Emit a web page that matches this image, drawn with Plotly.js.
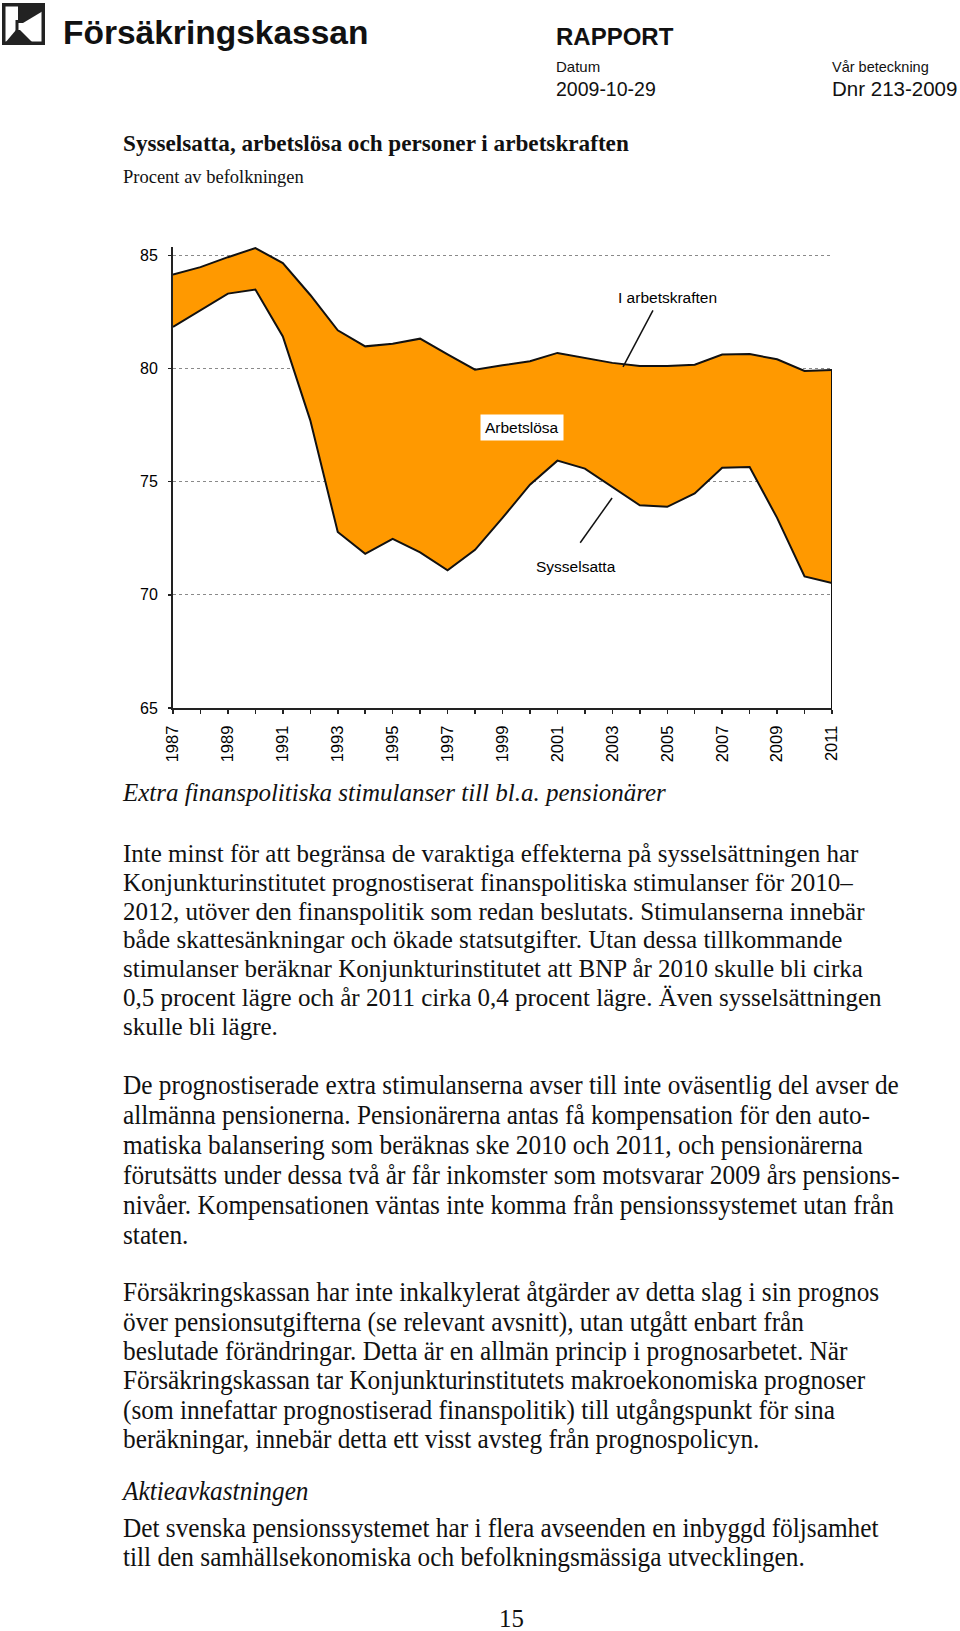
<!DOCTYPE html>
<html>
<head>
<meta charset="utf-8">
<script src="https://cdn.plot.ly/plotly-3.0.1.min.js"></script>
<style>
  html, body { margin:0; padding:0; background:#fff; }
  body { width:960px; height:1631px; position:relative; overflow:hidden; color:#111; }
  .t { position:absolute; white-space:nowrap; transform-origin:0 0; }
  #chart { position:absolute; left:0; top:200px; width:960px; height:570px; }
</style>
</head>
<body>
<svg style="position:absolute;left:2px;top:3px" width="43" height="42" viewBox="0 0 43 42">
  <rect x="1.75" y="1.75" width="39.5" height="38.5" fill="#fff" stroke="#222" stroke-width="3.5"/>
  <polygon points="16,3 41,3 41,8 21,20 16,20" fill="#222"/>
  <rect x="13.5" y="17" width="3" height="11" fill="#222"/>
  <polygon points="3,40 14,27 18,27 31,40" fill="#222"/>
</svg>
<div id="chart"></div>
<script>
// ---------- data ----------
const years = [1987,1988,1989,1990,1991,1992,1993,1994,1995,1996,1997,1998,1999,
               2000,2001,2002,2003,2004,2005,2006,2007,2008,2009,2010,2011];
const iArbetskraften = [84.15,84.48,84.92,85.32,84.66,83.25,81.69,80.98,81.10,81.32,80.63,79.95,80.14,
                        80.32,80.69,80.47,80.25,80.11,80.11,80.17,80.62,80.64,80.41,79.89,79.93];
const sysselsatta = [81.84,82.57,83.31,83.49,81.42,77.71,72.78,71.81,72.47,71.88,71.08,71.99,73.40,
                     74.87,75.93,75.58,74.77,73.96,73.89,74.48,75.62,75.65,73.40,70.81,70.52];
const xTickLabels = ['1987','1989','1991','1993','1995','1997','1999','2001','2003','2005','2007','2009','2011'];
const yTickVals = [65,70,75,80,85];
const yTickLabels = ['65','70','75','80','85'];
const seriesLabels = ['I arbetskraften','Arbetslösa','Sysselsatta'];

// ---------- page text ----------
const SERIF = '"Liberation Serif","Times New Roman",serif';
const SANS = '"Liberation Sans",Arial,Helvetica,sans-serif';
function addText(txt, x, baseline, o) {
  const d = document.createElement('div');
  d.className = 't';
  const asc = o.serif ? 0.8375 : 0.8465;
  d.style.left = x + 'px';
  d.style.top = (baseline - o.size * asc) + 'px';
  d.style.fontFamily = o.serif ? SERIF : SANS;
  d.style.fontSize = o.size + 'px';
  d.style.lineHeight = o.size + 'px';
  d.style.fontWeight = o.bold ? 'bold' : 'normal';
  d.style.fontStyle = o.italic ? 'italic' : 'normal';
  let tr = '';
  if (o.center) tr += 'translateX(-50%) ';
  if (o.sx) tr += 'scaleX(' + o.sx + ')';
  if (tr) d.style.transform = tr;
  d.textContent = txt;
  document.body.appendChild(d);
}
// header
addText('Försäkringskassan', 63, 44, {size:33.5, bold:true});
addText('RAPPORT', 556, 45, {size:24, bold:true});
addText('Datum', 556, 72, {size:15});
addText('Vår beteckning', 832, 72, {size:14.5});
addText('2009-10-29', 556, 96.5, {size:19.5});
addText('Dnr 213-2009', 832, 96.5, {size:20.5});
// chart title
addText('Sysselsatta, arbetslösa och personer i arbetskraften', 123, 151, {size:23.2, bold:true, serif:true});
addText('Procent av befolkningen', 123, 183, {size:18.5, serif:true});

// body
const BX = 123;
const paragraphs = [
  {y:800.6, lh:28.8, size:25, italic:true, lines:['Extra finanspolitiska stimulanser till bl.a. pensionärer']},
  {y:862, lh:28.8, size:25, lines:[
    'Inte minst för att begränsa de varaktiga effekterna på sysselsättningen har',
    'Konjunkturinstitutet prognostiserat finanspolitiska stimulanser för 2010–',
    '2012, utöver den finanspolitik som redan beslutats. Stimulanserna innebär',
    'både skattesänkningar och ökade statsutgifter. Utan dessa tillkommande',
    'stimulanser beräknar Konjunkturinstitutet att BNP år 2010 skulle bli cirka',
    '0,5 procent lägre och år 2011 cirka 0,4 procent lägre. Även sysselsättningen',
    'skulle bli lägre.']},
  {y:1094.5, lh:29.9, size:26.5, sx:0.955, lines:[
    'De prognostiserade extra stimulanserna avser till inte oväsentlig del avser de',
    'allmänna pensionerna. Pensionärerna antas få kompensation för den auto-',
    'matiska balansering som beräknas ske 2010 och 2011, och pensionärerna',
    'förutsätts under dessa två år får inkomster som motsvarar 2009 års pensions-',
    'nivåer. Kompensationen väntas inte komma från pensionssystemet utan från',
    'staten.']},
  {y:1301.5, lh:29.3, size:26.5, sx:0.955, lines:[
    'Försäkringskassan har inte inkalkylerat åtgärder av detta slag i sin prognos',
    'över pensionsutgifterna (se relevant avsnitt), utan utgått enbart från',
    'beslutade förändringar. Detta är en allmän princip i prognosarbetet. När',
    'Försäkringskassan tar Konjunkturinstitutets makroekonomiska prognoser',
    '(som innefattar prognostiserad finanspolitik) till utgångspunkt för sina',
    'beräkningar, innebär detta ett visst avsteg från prognospolicyn.']},
  {y:1500, lh:28.4, size:26.5, sx:0.955, italic:true, lines:['Aktieavkastningen']},
  {y:1537.5, lh:28.4, size:26.5, sx:0.955, lines:[
    'Det svenska pensionssystemet har i flera avseenden en inbyggd följsamhet',
    'till den samhällsekonomiska och befolkningsmässiga utvecklingen.']}
];
paragraphs.forEach(p => p.lines.forEach((l, i) =>
  addText(l, BX, p.y + i * p.lh, {size:p.size, serif:true, italic:!!p.italic, sx:p.sx})));
addText('15', 512, 1628, {size:26, serif:true, center:true, sx:0.955});

// ---------- chart ----------
const yRange = [65, 85.37];
const lineCol = '#111';
const traces = [
  {x: years, y: sysselsatta, type:'scatter', mode:'lines',
   line:{color:lineCol, width:2}, hoverinfo:'skip'},
  {x: years, y: iArbetskraften, type:'scatter', mode:'lines', fill:'tonexty',
   fillcolor:'#FF9900', line:{color:lineCol, width:2}, hoverinfo:'skip'}
];
const last = years.length - 1;
const layout = {
  width: 960, height: 570,
  margin: {l:173, r:128, t:47, b:62},
  paper_bgcolor: 'rgba(0,0,0,0)', plot_bgcolor: '#fff',
  showlegend: false,
  xaxis: {
    range: [years[0], years[last]], showgrid:false, zeroline:false,
    showline:true, linecolor:'#222', linewidth:2,
    tickmode:'array', tickvals: xTickLabels.map(Number), ticktext: xTickLabels,
    ticks:'outside', ticklen:4, tickwidth:1.5, tickcolor:'#222',
    tickangle:-90, tickfont: {family: SANS, size: 16.5, color: '#000'},
    ticklabelstandoff: 5,
    minor: {tickmode:'array', tickvals: years, ticks:'outside', ticklen:4, tickwidth:1.5, tickcolor:'#222', showgrid:false}
  },
  yaxis: {
    range: yRange, zeroline:false,
    showline:true, linecolor:'#222', linewidth:2,
    tickmode:'array', tickvals: yTickVals, ticktext: yTickLabels,
    ticks:'outside', ticklen:3, tickwidth:1.5, tickcolor:'#222',
    tickfont: {family: SANS, size: 16, color: '#000'},
    ticklabelstandoff: 7,
    showgrid:true, gridcolor:'#8a8a8a', gridwidth:1, griddash:'dot'
  },
  shapes: [
    {type:'line', xref:'x', yref:'y', x0: years[last], x1: years[last],
     y0: yRange[0], y1: iArbetskraften[last], line:{color:lineCol, width:2}},
    {type:'line', xref:'x', yref:'y', x0: 2003.39, y0: 80.07, x1: 2004.48, y1: 82.57,
     line:{color:lineCol, width:1.5}},
    {type:'line', xref:'x', yref:'y', x0: 2002.99, y0: 74.28, x1: 2001.83, y1: 72.30,
     line:{color:lineCol, width:1.5}}
  ],
  annotations: [
    {x: 2005.0, y: 83.15, xref:'x', yref:'y', text: seriesLabels[0], showarrow:false,
     font:{family:SANS, size:15.5, color:'#000'}},
    {x: 1999.71, y: 77.41, xref:'x', yref:'y', text: seriesLabels[1], showarrow:false,
     bgcolor:'#fff', borderpad:4, font:{family:SANS, size:15.5, color:'#000'}},
    {x: 2001.67, y: 71.27, xref:'x', yref:'y', text: seriesLabels[2], showarrow:false,
     font:{family:SANS, size:15.5, color:'#000'}}
  ]
};
Plotly.newPlot('chart', traces, layout, {staticPlot:true, displayModeBar:false});
</script>
</body>
</html>
